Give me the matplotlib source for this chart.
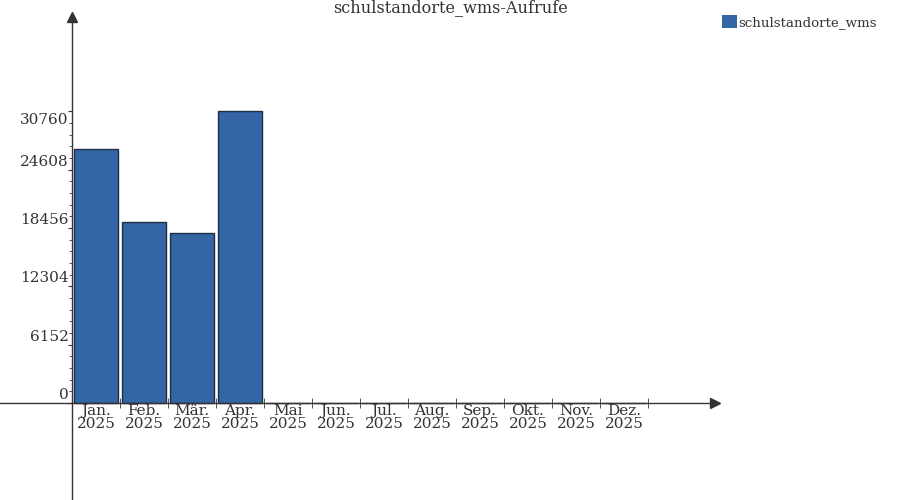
import matplotlib
matplotlib.use("Agg")
import matplotlib.pyplot as plt
import matplotlib.transforms as mtransforms
from matplotlib.patches import Patch
import numpy as np

# data
months = ["Jan.", "Feb.", "Mär.", "Apr.", "Mai", "Jun.", "Jul.", "Aug.",
          "Sep.", "Okt.", "Nov.", "Dez."]
year = "2025"
calls = [26750, 19080, 17890, 30760, 0, 0, 0, 0, 0, 0, 0, 0]
y_ticks = [0, 6152, 12304, 18456, 24608, 30760]
series_name = "schulstandorte_wms"
title = "schulstandorte_wms-Aufrufe"

bar_color = "#3465a4"
edge_color = "#1f2f45"
text_color = "#333333"
plt.rcParams["font.family"] = ["DejaVu Serif"]

fig = plt.figure(figsize=(9, 5), dpi=100)
ax = fig.add_axes([0, 0, 1, 1])
ax.set_xlim(-2.0, 16.75)
ax.set_ylim(-10235, 42524)

x = np.arange(len(months))
ax.bar(x, calls, width=0.9, color=bar_color, edgecolor=edge_color, linewidth=1)

# axes through origin
for s in ["top", "right"]:
    ax.spines[s].set_visible(False)
ax.spines["left"].set_position(("data", -0.5))
ax.spines["bottom"].set_position(("data", 0))
ax.spines["left"].set_bounds(-10235, 40300)
ax.spines["bottom"].set_bounds(-2.0, 12.85)
for s in ["left", "bottom"]:
    ax.spines[s].set_color(text_color)
    ax.spines[s].set_linewidth(1)
ax.plot([-0.5], [40700], marker="^", color=text_color, markersize=7, clip_on=False)
ax.plot([12.9], [0], marker=">", color=text_color, markersize=7, clip_on=False)

# x ticks: labels at centres, marks at boundaries
ax.set_xticks(x, [m + "\n" + year for m in months])
ax.tick_params(axis="x", which="major", length=0, pad=1, labelsize=11,
               labelcolor=text_color)
for lab in ax.get_xticklabels():
    lab.set_linespacing(0.85)
ax.set_xticks(np.arange(len(months)) + 0.5, minor=True)
ax.tick_params(axis="x", which="minor", direction="inout", length=7,
               color=text_color)

# y ticks
ax.set_yticks(y_ticks, [""] * len(y_ticks))
ax.set_yticks(np.arange(0, y_ticks[-1] + 1, y_ticks[1] / 5), minor=True)
ax.tick_params(axis="y", which="major", direction="out", length=3, color=text_color)
ax.tick_params(axis="y", which="minor", direction="out", length=2, color=text_color)
for v in y_ticks:
    if v == y_ticks[-1]:
        off = mtransforms.ScaledTranslation(-4 / 100, -2 / 100, fig.dpi_scale_trans)
        va = "top"
    else:
        off = mtransforms.ScaledTranslation(-3 / 100, 1 / 100, fig.dpi_scale_trans)
        va = "bottom"
    ax.text(-0.5, v, str(v), ha="right", va=va, fontsize=11, color=text_color,
            transform=ax.transData + off)

fig.text(0.5, 1 - 8 / 500, title, ha="center", va="center", fontsize=11.6,
         color=text_color)

ax.legend(handles=[Patch(facecolor=bar_color, label=series_name)],
          loc="upper left", bbox_to_anchor=(722 / 900, 1 - 15 / 500),
          frameon=False, handlelength=1.1, handleheight=1.1,
          handletextpad=0.1, borderaxespad=0, borderpad=0,
          prop={"size": 9.6}, labelcolor=text_color)

fig.savefig("out.png", dpi=100)
